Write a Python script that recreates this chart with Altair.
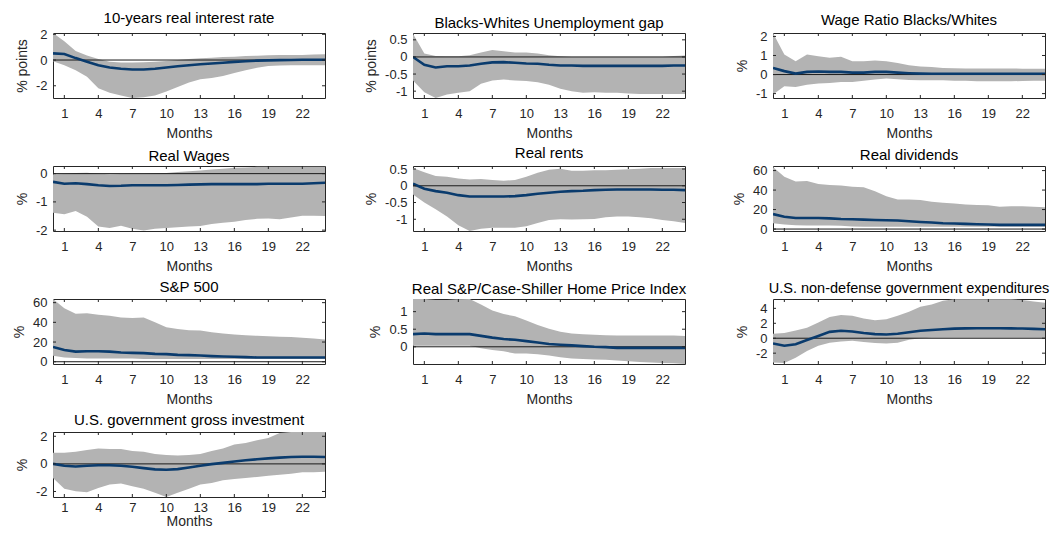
import altair as alt
import pandas as pd

months = list(range(25))
x_ticks = [1, 4, 7, 10, 13, 16, 19, 22]

titles = [
    "10-years real interest rate",
    "Blacks-Whites Unemployment gap",
    "Wage Ratio Blacks/Whites",
    "Real Wages",
    "Real rents",
    "Real dividends",
    "S&P 500",
    "Real S&P/Case-Shiller Home Price Index",
    "U.S. non-defense government expenditures",
    "U.S. government gross investment",
]
y_titles = ["% points", "% points", "%", "%", "%", "%", "%", "%", "%", "%"]

# 1. 10-years real interest rate
rate_irf = [0.52, 0.47, 0.15, -0.13, -0.4, -0.58, -0.68, -0.73, -0.73, -0.68, -0.58, -0.48, -0.4,
            -0.33, -0.27, -0.21, -0.14, -0.09, -0.05, -0.03, -0.01, 0.0, 0.02, 0.02, 0.02]
rate_hi = [2.1, 1.45, 0.7, 0.35, 0.08, -0.13, -0.2, -0.2, -0.18, -0.13, -0.08, 0.0, 0.08,
           0.13, 0.18, 0.24, 0.26, 0.31, 0.34, 0.38, 0.4, 0.4, 0.4, 0.42, 0.45]
rate_lo = [-0.1, -0.4, -0.8, -1.3, -2.2, -2.55, -2.75, -2.95, -2.9, -2.75, -2.45, -2.1, -1.75,
           -1.5, -1.4, -1.24, -1.0, -0.8, -0.6, -0.47, -0.42, -0.4, -0.4, -0.4, -0.4]

# 2. Blacks-Whites Unemployment gap
gap_irf = [0.0, -0.23, -0.31, -0.27, -0.27, -0.25, -0.2, -0.16, -0.15, -0.17, -0.19, -0.2, -0.23,
           -0.25, -0.25, -0.26, -0.26, -0.26, -0.26, -0.26, -0.26, -0.26, -0.26, -0.25, -0.25]
gap_hi = [0.68, 0.1, 0.03, 0.02, 0.02, 0.05, 0.13, 0.2, 0.17, 0.13, 0.13, 0.1, 0.05,
          0.02, 0.0, 0.0, 0.0, 0.0, 0.0, 0.0, 0.0, 0.0, 0.0, 0.03, 0.04]
gap_lo = [-0.69, -1.03, -1.2, -1.1, -1.05, -1.0, -0.78, -0.69, -0.66, -0.69, -0.7, -0.74, -0.81,
          -0.93, -1.0, -1.05, -1.03, -1.05, -1.05, -1.07, -1.08, -1.08, -1.08, -1.08, -1.08]

# 3. Wage Ratio Blacks/Whites
wr_irf = [0.35, 0.18, 0.05, 0.14, 0.16, 0.14, 0.14, 0.1, 0.1, 0.14, 0.14, 0.1, 0.07,
          0.05, 0.04, 0.04, 0.04, 0.04, 0.04, 0.04, 0.04, 0.04, 0.04, 0.04, 0.04]
wr_hi = [2.18, 1.05, 0.7, 1.05, 0.96, 0.88, 0.93, 0.7, 0.7, 0.74, 0.7, 0.61, 0.49,
         0.42, 0.39, 0.35, 0.33, 0.32, 0.32, 0.32, 0.32, 0.32, 0.31, 0.3, 0.3]
wr_lo = [-1.05, -0.61, -0.65, -0.53, -0.47, -0.44, -0.39, -0.39, -0.32, -0.26, -0.21, -0.25, -0.28,
         -0.3, -0.3, -0.3, -0.32, -0.33, -0.35, -0.35, -0.35, -0.35, -0.34, -0.33, -0.32]

# 4. Real Wages
rw_irf = [-0.29, -0.36, -0.34, -0.37, -0.41, -0.44, -0.43, -0.41, -0.41, -0.41, -0.41, -0.4, -0.39,
          -0.38, -0.37, -0.37, -0.37, -0.37, -0.37, -0.36, -0.36, -0.36, -0.36, -0.34, -0.32]
rw_hi = [-0.02, -0.01, 0.02, 0.03, 0.0, -0.02, -0.01, 0.0, 0.0, 0.01, 0.02, 0.06, 0.08,
         0.11, 0.15, 0.17, 0.21, 0.22, 0.24, 0.24, 0.24, 0.24, 0.24, 0.24, 0.24]
rw_lo = [-1.38, -1.44, -1.32, -1.53, -1.87, -1.92, -1.84, -1.95, -2.01, -1.95, -1.92, -1.9, -1.87,
         -1.85, -1.78, -1.74, -1.7, -1.64, -1.6, -1.59, -1.61, -1.55, -1.49, -1.49, -1.5]

# 5. Real rents
rr_irf = [0.06, -0.09, -0.16, -0.21, -0.28, -0.32, -0.32, -0.32, -0.32, -0.31, -0.28, -0.24, -0.21,
          -0.18, -0.16, -0.15, -0.13, -0.12, -0.11, -0.11, -0.11, -0.11, -0.12, -0.12, -0.13]
rr_hi = [0.53, 0.4, 0.29, 0.27, 0.22, 0.19, 0.2, 0.17, 0.15, 0.17, 0.27, 0.39, 0.48,
         0.51, 0.45, 0.45, 0.46, 0.46, 0.48, 0.49, 0.51, 0.53, 0.53, 0.53, 0.53]
rr_lo = [-0.26, -0.5, -0.7, -0.92, -1.18, -1.35, -1.28, -1.25, -1.25, -1.25, -1.21, -1.11, -1.02,
         -1.0, -1.01, -1.0, -0.99, -0.94, -0.92, -0.92, -0.94, -0.97, -1.02, -1.06, -1.11]

# 6. Real dividends
rd_irf = [15.3, 12.7, 11.3, 11.3, 11.3, 11.0, 10.3, 10.0, 9.7, 9.3, 9.0, 8.7, 8.0,
          7.3, 6.7, 6.0, 5.7, 5.3, 5.0, 4.7, 4.3, 4.3, 4.3, 4.3, 4.3]
rd_hi = [63.7, 53.7, 48.7, 49.3, 46.3, 45.3, 44.7, 43.3, 43.0, 38.7, 33.7, 30.3, 30.3,
         29.7, 28.0, 27.0, 26.3, 25.3, 24.7, 24.3, 23.0, 23.3, 23.3, 23.0, 22.3]
rd_lo = [6.0, 4.7, 4.0, 3.7, 3.7, 3.7, 3.3, 2.7, 2.3, 2.3, 2.3, 2.3, 2.3,
         2.3, 2.3, 2.3, 2.3, 2.3, 2.3, 2.3, 2.3, 2.3, 2.3, 2.3, 2.3]

# 7. S&P 500
sp_irf = [15.0, 12.0, 10.3, 10.7, 10.7, 10.3, 9.3, 9.0, 8.7, 8.0, 7.7, 7.0, 6.7,
          6.3, 5.7, 5.3, 5.0, 4.7, 4.3, 4.3, 4.3, 4.3, 4.3, 4.3, 4.3]
sp_hi = [63.7, 54.3, 48.7, 49.3, 47.7, 46.7, 45.0, 44.3, 45.0, 40.0, 35.0, 33.3, 32.0,
         31.7, 30.0, 28.7, 27.7, 27.0, 26.3, 26.0, 25.3, 25.0, 24.3, 23.7, 22.7]
sp_lo = [6.0, 4.3, 3.7, 3.3, 3.3, 3.3, 3.3, 3.3, 2.7, 2.7, 2.7, 2.7, 2.7,
         2.7, 2.7, 2.7, 2.7, 2.7, 2.7, 2.7, 2.7, 2.7, 2.7, 2.7, 2.7]

# 8. Real S&P/Case-Shiller Home Price Index
hp_irf = [0.36, 0.38, 0.36, 0.36, 0.36, 0.36, 0.31, 0.26, 0.22, 0.2, 0.16, 0.12, 0.08,
          0.06, 0.04, 0.02, 0.0, -0.01, -0.03, -0.03, -0.03, -0.03, -0.03, -0.03, -0.03]
hp_hi = [1.36, 1.36, 1.33, 1.33, 1.35, 1.36, 1.2, 1.03, 0.93, 0.87, 0.75, 0.62, 0.51,
         0.43, 0.38, 0.36, 0.34, 0.33, 0.32, 0.32, 0.32, 0.32, 0.32, 0.32, 0.31]
hp_lo = [0.03, 0.03, 0.03, 0.03, 0.03, 0.03, -0.04, -0.09, -0.13, -0.19, -0.19, -0.21, -0.25,
         -0.3, -0.33, -0.35, -0.36, -0.37, -0.39, -0.41, -0.43, -0.45, -0.46, -0.47, -0.49]

# 9. U.S. non-defense government expenditures
nd_irf = [-0.7, -1.0, -0.8, -0.25, 0.3, 0.85, 1.0, 0.9, 0.7, 0.55, 0.5, 0.6, 0.8,
          1.0, 1.1, 1.2, 1.28, 1.32, 1.33, 1.33, 1.33, 1.32, 1.3, 1.25, 1.2]
nd_hi = [0.6, 0.7, 1.05, 1.4, 2.1, 2.85, 3.1, 3.0, 2.65, 2.4, 2.55, 3.0, 3.55,
         4.2, 4.5, 5.0, 5.2, 5.2, 5.2, 5.2, 5.2, 5.2, 5.1, 4.9, 4.75]
nd_lo = [-3.25, -3.3, -2.6, -1.7, -1.0, -0.6, -0.45, -0.35, -0.5, -0.65, -0.7, -0.6, -0.2,
         0.0, 0.08, 0.08, 0.08, 0.08, 0.08, 0.08, 0.08, 0.08, 0.08, 0.08, 0.08]

# 10. U.S. government gross investment
gi_irf = [0.0, -0.14, -0.19, -0.14, -0.1, -0.1, -0.14, -0.21, -0.31, -0.4, -0.43, -0.38, -0.26,
          -0.14, -0.02, 0.07, 0.17, 0.26, 0.33, 0.4, 0.45, 0.5, 0.52, 0.52, 0.5]
gi_hi = [0.81, 0.81, 0.88, 1.0, 1.12, 1.07, 1.07, 0.93, 0.88, 0.71, 0.64, 0.6, 0.64,
         0.71, 0.93, 1.12, 1.4, 1.52, 1.71, 1.88, 2.24, 2.31, 2.31, 2.31, 2.31]
gi_lo = [-1.02, -1.81, -1.98, -2.05, -1.74, -1.5, -1.43, -1.62, -1.81, -2.1, -2.4, -2.1, -1.81,
         -1.5, -1.38, -1.19, -1.1, -1.02, -0.95, -0.86, -0.79, -0.71, -0.6, -0.6, -0.57]

irfs = [rate_irf, gap_irf, wr_irf, rw_irf, rr_irf, rd_irf, sp_irf, hp_irf, nd_irf, gi_irf]
his = [rate_hi, gap_hi, wr_hi, rw_hi, rr_hi, rd_hi, sp_hi, hp_hi, nd_hi, gi_hi]
los = [rate_lo, gap_lo, wr_lo, rw_lo, rr_lo, rd_lo, sp_lo, hp_lo, nd_lo, gi_lo]

y_domains = [[-2.95, 2.1], [-1.2, 0.7], [-1.23, 2.18], [-2.03, 0.27], [-1.35, 0.59],
             [-2.0, 64.7], [-2.3, 63.7], [-0.49, 1.36], [-3.45, 5.25], [-2.4, 2.31]]
y_ticks = [[-2, 0, 2], [-1, -0.5, 0, 0.5], [-1, 0, 1, 2], [-2, -1, 0], [-1, -0.5, 0, 0.5],
           [0, 20, 40, 60], [0, 20, 40, 60], [0, 0.5, 1], [-2, 0, 2, 4], [-2, 0, 2]]
title_sizes = [15, 15, 15, 15, 15, 15, 15, 15, 14.5, 15]

W, H = 272, 65
FONT = "Liberation Sans"
TXT = "#262626"
BAND = "#b3b3b3"
LINE = "#0a3b6d"
TL = 3  # inward tick length


def panel(i):
    df = pd.DataFrame({"month": months, "irf": irfs[i], "lo": los[i], "hi": his[i]})
    xscale = alt.Scale(domain=[0, 24], nice=False, zero=False)
    yscale = alt.Scale(domain=y_domains[i], nice=False, zero=False)
    last = i == 9
    xaxis = alt.Axis(values=x_ticks, title="Months", labelExpr="'' + datum.value",
                     labelPadding=4 if last else 9, titlePadding=0 if last else 6)
    yaxis = alt.Axis(values=y_ticks[i], title=y_titles[i], labelExpr="'' + datum.value",
                     labelPadding=6, titlePadding=6)

    def X(f):
        return alt.X(f, scale=xscale, axis=xaxis)

    def Y(f):
        return alt.Y(f, scale=yscale, axis=yaxis)

    band = alt.Chart(df).mark_area(color=BAND, opacity=1, clip=True).encode(
        x=X("month:Q"), y=Y("lo:Q"), y2="hi:Q")
    zero = alt.Chart(pd.DataFrame({"z": [0]})).mark_rule(color="#1a1a1a", strokeWidth=1).encode(
        y=Y("z:Q"))
    line = alt.Chart(df).mark_line(color=LINE, strokeWidth=2.6, clip=True).encode(
        x=X("month:Q"), y=Y("irf:Q"))
    xt = pd.DataFrame({"t": x_ticks})
    yt = pd.DataFrame({"v": y_ticks[i]})
    xb = alt.Chart(xt).mark_rule(color=TXT, strokeWidth=1).encode(
        x=X("t:Q"), y=alt.value(H), y2=alt.value(H - TL))
    xtop = alt.Chart(xt).mark_rule(color=TXT, strokeWidth=1).encode(
        x=X("t:Q"), y=alt.value(0), y2=alt.value(TL))
    yl = alt.Chart(yt).mark_rule(color=TXT, strokeWidth=1).encode(
        y=Y("v:Q"), x=alt.value(0), x2=alt.value(TL))
    yr = alt.Chart(yt).mark_rule(color=TXT, strokeWidth=1).encode(
        y=Y("v:Q"), x=alt.value(W), x2=alt.value(W - TL))
    return alt.layer(band, zero, line, xb, xtop, yl, yr).properties(
        width=W, height=H,
        title=alt.TitleParams(titles[i], fontSize=title_sizes[i], font=FONT,
                              fontWeight="normal", color="#000000", offset=2))


chart = alt.concat(*[panel(i) for i in range(10)], columns=3,
                   spacing=alt.RowColnumber(row=68, column=88), bounds="flush")

chart = chart.configure(
    background="white",
    padding={"left": 4, "top": 2, "right": 0, "bottom": 0},
).configure_view(
    stroke=TXT, strokeWidth=1
).configure_axis(
    labelFont=FONT, labelFontSize=13, labelColor=TXT,
    titleFont=FONT, titleFontSize=14, titleFontWeight="normal", titleColor=TXT,
    ticks=False, tickSize=0, domain=False, grid=False
)

chart.save("out.html", embed_options={"renderer": "svg", "actions": False})
